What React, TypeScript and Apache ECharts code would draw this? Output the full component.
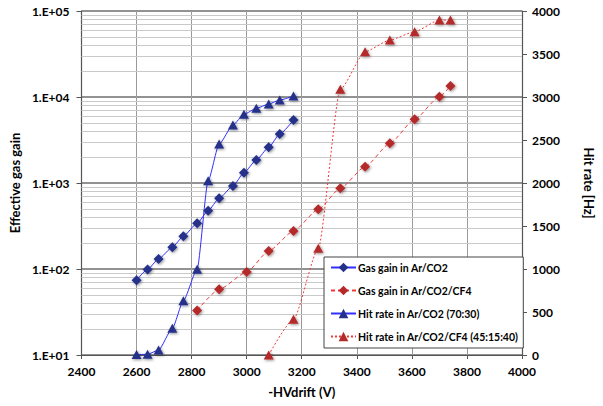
import React, { useEffect, useRef } from "react";
import * as echarts from "echarts";

const xArCO2 = [2600, 2640, 2680, 2730, 2770, 2820, 2860, 2900, 2950, 2990, 3035, 3080, 3120, 3170];
const gainArCO2 = [74, 99, 131, 179, 241, 340, 477, 664, 922, 1315, 1850, 2600, 3710, 5400];
const hitArCO2 = [5, 8, 58, 310, 631, 996, 2026, 2453, 2674, 2798, 2868, 2918, 2965, 3011];

const xCF4Gain = [2820, 2900, 3000, 3080, 3170, 3260, 3340, 3430, 3520, 3610, 3700, 3740];
const gainCF4 = [33, 58, 92, 162, 276, 494, 867, 1545, 2890, 5500, 10070, 13430];

const xCF4Hit = [3080, 3170, 3260, 3340, 3430, 3520, 3610, 3700, 3740];
const hitCF4 = [0, 415, 1240, 3089, 3526, 3662, 3759, 3895, 3895];

const legendNames = [
  "Gas gain in Ar/CO2",
  "Gas gain in Ar/CO2/CF4",
  "Hit rate in Ar/CO2 (70:30)",
  "Hit rate in Ar/CO2/CF4 (45:15:40)",
];

const FONT = "Lato";
const BLUE_LINE = "#2f2fff";
const BLUE_MARK = "#25308a";
const RED_LINE = "#f03a3a";
const RED_MARK = "#b42a2a";

const pairs = (xs: number[], ys: number[]) => xs.map((x, i) => [x, ys[i]]);

// minor log grid values (2..9 within each decade)
const minorLog: number[] = [];
for (let d = 10; d < 100000; d *= 10) {
  for (let k = 2; k <= 9; k++) minorLog.push(d * k);
}

export default function App() {
  const ref = useRef<HTMLDivElement>(null);
  useEffect(() => {
    document.body.style.margin = "0";
    if (!ref.current) return;
    const chart = echarts.init(ref.current, null, { renderer: "svg" });
    const shadow = {
      shadowBlur: 3,
      shadowColor: "rgba(0,0,0,0.45)",
      shadowOffsetX: 1,
      shadowOffsetY: 1,
    };
    const plain = (v: number) => String(v);
    chart.setOption({
      animation: false,
      backgroundColor: "#ffffff",
      textStyle: { fontFamily: FONT },
      grid: { left: 79, right: 78, top: 11, bottom: 51, containLabel: false },
      legend: {
        orient: "vertical",
        left: 324,
        top: 257,
        padding: [5, 5, 6, 6],
        itemGap: 12,
        itemWidth: 25,
        itemHeight: 12,
        backgroundColor: "#ffffff",
        borderColor: "#444444",
        borderWidth: 1,
        textStyle: { fontFamily: FONT, fontWeight: "bold", fontSize: 10.5, color: "#000", padding: [0, 0, 0, -3] },
        data: legendNames,
      },
      xAxis: {
        type: "value",
        min: 2400,
        max: 4000,
        interval: 200,
        name: "-HVdrift (V)",
        nameLocation: "middle",
        nameGap: 30,
        nameTextStyle: { fontFamily: FONT, fontWeight: "bold", fontSize: 13, color: "#000" },
        axisLine: { show: true, onZero: false, lineStyle: { color: "#555", width: 1.2 } },
        axisTick: { show: true, length: 4, lineStyle: { color: "#555" } },
        axisLabel: { margin: 10, fontFamily: FONT, fontWeight: "bold", fontSize: 12, color: "#000", formatter: plain },
        splitLine: { show: true, lineStyle: { color: "#9a9a9a", width: 1 } },
      },
      yAxis: [
        {
          type: "log",
          logBase: 10,
          min: 10,
          max: 100000,
          position: "left",
          name: "Effective gas gain",
          nameLocation: "middle",
          nameGap: 53,
          nameTextStyle: { fontFamily: FONT, fontWeight: "bold", fontSize: 13, color: "#000" },
          axisLine: { show: true, lineStyle: { color: "#555", width: 1.2 } },
          axisTick: { show: true, length: 5, lineStyle: { color: "#555" } },
          axisLabel: {
            margin: 12,
            fontFamily: FONT,
            fontWeight: "bold",
            fontSize: 12,
            color: "#000",
            formatter: (v: number) => "1.E+" + String(Math.round(Math.log10(v))).padStart(2, "0"),
          },
          splitLine: { show: true, lineStyle: { color: "#6e6e6e", width: 1.6 } },
        },
        {
          type: "value",
          min: 0,
          max: 4000,
          interval: 500,
          position: "right",
          name: "Hit rate [Hz]",
          nameLocation: "middle",
          nameGap: 60,
          nameRotate: -90,
          nameTextStyle: { fontFamily: FONT, fontWeight: "bold", fontSize: 13, color: "#000" },
          axisLine: { show: true, lineStyle: { color: "#555", width: 1.2 } },
          axisTick: { show: true, length: 5, lineStyle: { color: "#555" } },
          axisLabel: { margin: 10, fontFamily: FONT, fontWeight: "bold", fontSize: 12, color: "#000", formatter: plain },
          splitLine: { show: false },
        },
      ],
      series: [
        {
          name: "minorGrid",
          type: "line",
          data: [],
          yAxisIndex: 0,
          silent: true,
          markLine: {
            silent: true,
            z: 1,
            symbol: ["none", "none"],
            label: { show: false },
            lineStyle: { type: "solid", color: "#c9c9c9", width: 1 },
            emphasis: { disabled: true },
            data: minorLog.map((v) => ({ yAxis: v })),
          },
        },
        {
          name: legendNames[0],
          type: "line",
          yAxisIndex: 0,
          data: pairs(xArCO2, gainArCO2),
          symbol: "diamond",
          symbolSize: 10,
          smooth: 0.2,
          smoothMonotone: "x",
          lineStyle: { color: BLUE_LINE, width: 1 },
          itemStyle: { color: BLUE_MARK, ...shadow },
          z: 4,
        },
        {
          name: legendNames[1],
          type: "line",
          yAxisIndex: 0,
          data: pairs(xCF4Gain, gainCF4),
          symbol: "diamond",
          symbolSize: 10,
          smooth: 0.2,
          smoothMonotone: "x",
          lineStyle: { color: RED_LINE, width: 1, type: [4, 3] },
          itemStyle: { color: RED_MARK, ...shadow },
          z: 4,
        },
        {
          name: legendNames[2],
          type: "line",
          yAxisIndex: 1,
          data: pairs(xArCO2, hitArCO2),
          symbol: "triangle",
          symbolSize: [10, 9],
          smooth: 0.2,
          smoothMonotone: "x",
          lineStyle: { color: BLUE_LINE, width: 1 },
          itemStyle: { color: BLUE_MARK, ...shadow },
          z: 4,
        },
        {
          name: legendNames[3],
          type: "line",
          yAxisIndex: 1,
          data: pairs(xCF4Hit, hitCF4),
          symbol: "triangle",
          symbolSize: [10, 9],
          smooth: 0.2,
          smoothMonotone: "x",
          lineStyle: { color: RED_LINE, width: 1, type: [2, 2] },
          itemStyle: { color: RED_MARK, ...shadow },
          z: 4,
        },
      ],
    });
    return () => chart.dispose();
  }, []);
  return <div ref={ref} style={{ width: 603, height: 406 }} />;
}
